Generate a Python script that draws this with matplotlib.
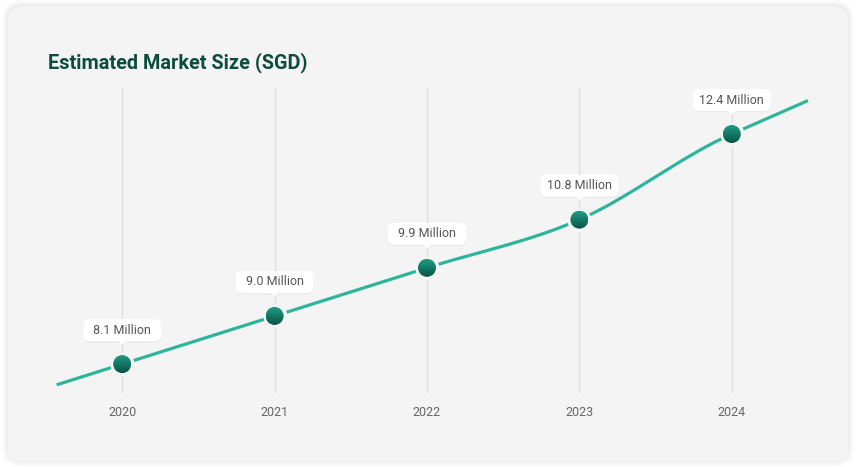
import numpy as np
import matplotlib
matplotlib.use("Agg")
import matplotlib.pyplot as plt
import matplotlib.patches as mpatches
import matplotlib.transforms as mtransforms
from matplotlib.colors import LinearSegmentedColormap

# chart data
years = [2020, 2021, 2022, 2023, 2024]
market_size = [8.1, 9.0, 9.9, 10.8, 12.4]  # SGD, millions
value_labels = ["8.1 Million", "9.0 Million", "9.9 Million", "10.8 Million", "12.4 Million"]
title = "Estimated Market Size (SGD)"

plt.rcParams['font.family'] = ['Roboto', 'DejaVu Sans']

W, H = 856, 467
CARD = '#f4f4f4'
LINE = '#2db59b'
DARK = '#0b4d3c'

fig = plt.figure(figsize=(W / 100, H / 100), dpi=100)
fig.patch.set_facecolor('white')
px = mtransforms.IdentityTransform()

# card with a soft shadow (drawn behind the axes)
for grow, alpha in [(6, 0.015), (4, 0.02), (2, 0.03)]:
    fig.patches.append(mpatches.FancyBboxPatch(
        (8 - grow, 5 - grow + 1), 840 + 2 * grow, 455 + 2 * grow,
        boxstyle=f"round,pad=0,rounding_size={14 + grow}",
        transform=px, facecolor='black', edgecolor='none', alpha=alpha, zorder=-3))
fig.patches.append(mpatches.FancyBboxPatch(
    (8, 5), 840, 455, boxstyle="round,pad=0,rounding_size=14",
    transform=px, facecolor=CARD, edgecolor='none', zorder=-2))

fig.text(48 / W, (H - 68) / H, title, fontsize=14.3, fontweight='bold',
         color=DARK, va='baseline', ha='left')

ax = fig.add_axes([46 / W, (H - 393) / H, (808 - 46) / W, (393 - 88) / H])
ax.set_facecolor('none')
for s in ax.spines.values():
    s.set_visible(False)

x = np.array(years, dtype=float)
y = np.array(market_size, dtype=float)
ylo, yhi = y.min() - 0.54, y.max() + 0.86
ax.set_xlim(x[0] - 0.5, x[-1] + 0.5)
ax.set_ylim(ylo, yhi)

ax.vlines(x, ylo, yhi, color='#dedee2', lw=1, zorder=1)
ax.set_xticks(x)
ax.set_xticklabels([str(v) for v in years])
ax.set_yticks([])
ax.tick_params(axis='x', length=0, pad=9, labelsize=9, labelcolor='#666666')

# smooth curve through the points (cubic Hermite), extended a bit at both ends
m = np.gradient(y, x)
m[0], m[-1] = m[1], m[-2]
xs, ys = [], []
for i in range(len(x) - 1):
    h = x[i + 1] - x[i]
    t = np.linspace(0, 1, 40)
    h00 = 2 * t**3 - 3 * t**2 + 1
    h10 = t**3 - 2 * t**2 + t
    h01 = -2 * t**3 + 3 * t**2
    h11 = t**3 - t**2
    xs.append(x[i] + t * h)
    ys.append(h00 * y[i] + h10 * h * m[i] + h01 * y[i + 1] + h11 * h * m[i + 1])
xs, ys = np.concatenate(xs), np.concatenate(ys)
left = x[0] - 0.43
right = x[-1] + 0.5
xs = np.concatenate([[left], xs, [right]])
ys = np.concatenate([[y[0] - m[0] * (x[0] - left)], ys, [y[-1] + m[-1] * (right - x[-1])]])
ax.plot(xs, ys, color=LINE, lw=2.3, solid_capstyle='butt', zorder=2, clip_on=False)

# markers: background ring + gradient disc
ax.scatter(x, y, s=(24 * 0.72) ** 2, color=CARD, zorder=3, linewidths=0)
grad_cmap = LinearSegmentedColormap.from_list('g', ['#0a5444', '#1f9c86'])
grad = np.linspace(0, 1, 64).reshape(-1, 1)
inv = ax.transData.inverted()
r = 9
for xi, yi, lab in zip(x, y, value_labels):
    cx, cy = ax.transData.transform((xi, yi))
    circ = mpatches.Circle((cx, cy), r, transform=px)
    (x0, y0), (x1, y1) = inv.transform([(cx - r, cy - r), (cx + r, cy + r)])
    im = ax.imshow(grad, extent=[x0, x1, y0, y1], cmap=grad_cmap, origin='lower',
                   aspect='auto', zorder=4, interpolation='bilinear')
    im.set_clip_path(circ)

    # label bubble
    bw, bh = 78, 22
    bx, by = cx - bw / 2, cy + 23
    fig.patches.append(mpatches.FancyBboxPatch(
        (bx, by - 1.5), bw, bh, boxstyle="round,pad=0,rounding_size=6",
        transform=px, facecolor='black', edgecolor='none', alpha=0.04, zorder=4))
    fig.patches.append(mpatches.FancyBboxPatch(
        (bx, by), bw, bh, boxstyle="round,pad=0,rounding_size=6",
        transform=px, facecolor='white', edgecolor='none', zorder=4))
    fig.patches.append(mpatches.Polygon(
        [(cx - 4, by + 0.5), (cx + 4, by + 0.5), (cx, by - 3.5)],
        closed=True, transform=px, facecolor='white', edgecolor='none', zorder=4))
    fig.text(cx / W, (by + bh / 2) / H, lab, fontsize=9, color='#555555',
             ha='center', va='center', zorder=5)

ax.set_xlim(x[0] - 0.5, x[-1] + 0.5)
ax.set_ylim(ylo, yhi)

fig.savefig('out.png', dpi=100, facecolor='white')
